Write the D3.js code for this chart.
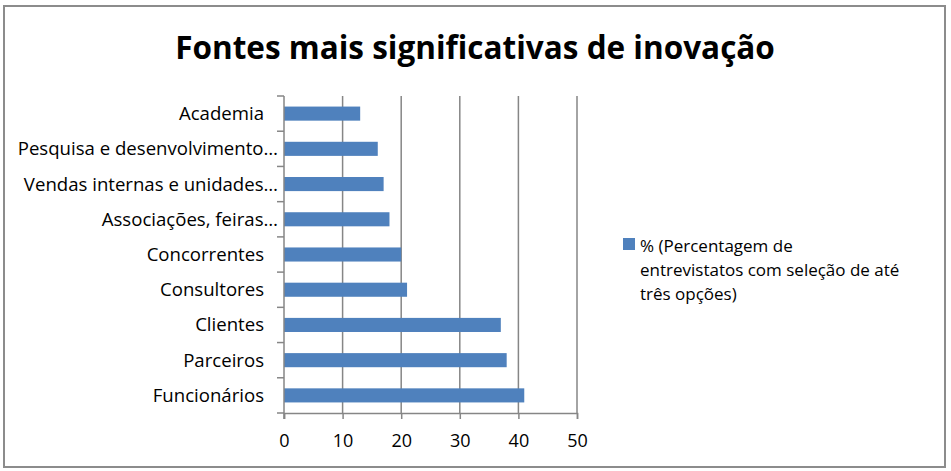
<!DOCTYPE html>
<html>
<head>
<meta charset="utf-8">
<script src="https://cdn.jsdelivr.net/npm/d3@7"></script>
<style>
  html, body { margin: 0; padding: 0; background: #fff; }
  svg text { font-family: "Open Sans", Lato, sans-serif; fill: #000; }
</style>
</head>
<body>
<svg id="chart" width="951" height="471"></svg>
<script>
const TITLE = "Fontes mais significativas de inovação";
const CATEGORIES = [
  "Academia",
  "Pesquisa e desenvolvimento…",
  "Vendas internas e unidades…",
  "Associações, feiras…",
  "Concorrentes",
  "Consultores",
  "Clientes",
  "Parceiros",
  "Funcionários"
];
const VALUES = [13, 16, 17, 18, 20, 21, 37, 38, 41];
const X_TICKS = [0, 10, 20, 30, 40, 50];
const LEGEND_LINES = ["% (Percentagem de", "entrevistatos com seleção de até", "três opções)"];

const svg = d3.select("#chart");
const gridColor = "#868686";
const barColor = "#4f81bd";

// moldura do gráfico
svg.append("rect")
  .attr("x", 4).attr("y", 6)
  .attr("width", 941).attr("height", 461)
  .attr("fill", "#fff")
  .attr("stroke", "#8c8c8c")
  .attr("stroke-width", 2);

svg.append("text")
  .attr("x", 475).attr("y", 59)
  .attr("text-anchor", "middle")
  .attr("font-size", 31.5)
  .attr("font-weight", "bold")
  .text(TITLE);

const plot = { left: 284, right: 577, top: 96, bottom: 413 };

const x = d3.scaleLinear().domain([0, 50]).range([plot.left, plot.right]);
const y = d3.scaleBand()
  .domain(CATEGORIES)
  .range([plot.top, plot.bottom])
  .paddingInner(0.6)
  .paddingOuter(0.3);

// linhas de grade
svg.append("g")
  .selectAll("line")
  .data(X_TICKS.filter(d => d > 0))
  .join("line")
  .attr("x1", d => x(d)).attr("x2", d => x(d))
  .attr("y1", plot.top).attr("y2", plot.bottom)
  .attr("stroke", gridColor)
  .attr("stroke-width", 1.5);

// barras
svg.append("g")
  .selectAll("rect")
  .data(VALUES)
  .join("rect")
  .attr("x", x(0))
  .attr("y", (d, i) => y(CATEGORIES[i]))
  .attr("width", d => x(d) - x(0))
  .attr("height", y.bandwidth())
  .attr("fill", barColor);

// eixo x
const xAxis = svg.append("g")
  .attr("transform", `translate(0,${plot.bottom})`)
  .call(d3.axisBottom(x).tickValues(X_TICKS).tickSize(6).tickPadding(15));
xAxis.select(".domain").attr("stroke", gridColor).attr("stroke-width", 1.5);
xAxis.selectAll(".tick line").attr("stroke", gridColor).attr("stroke-width", 1.5);
xAxis.selectAll(".tick text")
  .attr("font-size", 18)
  .attr("font-family", "\"Open Sans\", sans-serif")
  .attr("fill", "#000");

// eixo y (marcas entre categorias)
const step = y.step();
const boundaries = d3.range(CATEGORIES.length + 1).map(i => plot.top + i * step);
svg.append("g")
  .selectAll("line")
  .data(boundaries)
  .join("line")
  .attr("x1", plot.left - 7).attr("x2", plot.left)
  .attr("y1", d => d).attr("y2", d => d)
  .attr("stroke", gridColor)
  .attr("stroke-width", 1.5);
svg.append("line")
  .attr("x1", plot.left).attr("x2", plot.left)
  .attr("y1", plot.top).attr("y2", plot.bottom + 6)
  .attr("stroke", gridColor)
  .attr("stroke-width", 1.5);

// rótulos truncados terminam mais perto do eixo
svg.append("g")
  .selectAll("text")
  .data(CATEGORIES)
  .join("text")
  .attr("x", d => d.endsWith("…") ? 278 : 264)
  .attr("y", d => y(d) + y.bandwidth() / 2)
  .attr("dy", "0.35em")
  .attr("text-anchor", "end")
  .attr("font-size", 18.6)
  .text(d => d);

// legenda
svg.append("rect")
  .attr("x", 623).attr("y", 238)
  .attr("width", 12).attr("height", 12)
  .attr("fill", barColor);

svg.append("g")
  .selectAll("text")
  .data(LEGEND_LINES)
  .join("text")
  .attr("x", 640)
  .attr("y", (d, i) => 252 + i * 24)
  .attr("font-size", 17)
  .text(d => d);
</script>
</body>
</html>
